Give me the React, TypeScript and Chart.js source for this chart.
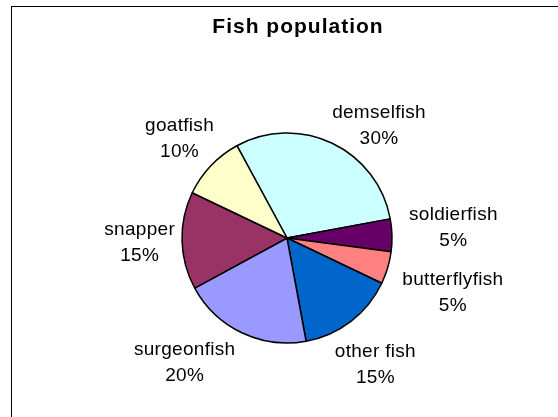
import React, { useEffect, useRef } from 'react';
import { Chart, registerables } from 'chart.js';

Chart.register(...registerables);

const categories = ['demselfish', 'soldierfish', 'butterflyfish', 'other fish', 'surgeonfish', 'snapper', 'goatfish'];
const values = [30, 5, 5, 15, 20, 15, 10];
const colors = ['#CCFFFF', '#660066', '#FF8080', '#0066CC', '#9999FF', '#993366', '#FFFFCC'];
const titleText = 'Fish population';

// small fine-tuning of label placement (dx, dy) relative to the geometric rule
const labelNudge: [number, number][] = [[3, 8], [9, -8], [7, 10], [-21, 15], [-10, 1], [1, -1], [9, -3]];

const labelPlugin = {
  id: 'excelLabels',
  afterDatasetsDraw(chart: any) {
    const ctx = chart.ctx as CanvasRenderingContext2D;
    const meta = chart.getDatasetMeta(0);
    const total = values.reduce((a, b) => a + b, 0);
    ctx.save();
    ctx.fillStyle = '#000';
    ctx.textAlign = 'center';
    ctx.textBaseline = 'alphabetic';
    ctx.font = '19px "Liberation Sans", Arial, sans-serif';
    (ctx as any).letterSpacing = '0.3px';
    const clamp = (v: number) => Math.max(-1, Math.min(1, v));
    meta.data.forEach((arc: any, i: number) => {
      const { x, y, startAngle, endAngle, outerRadius } = arc.getProps(
        ['x', 'y', 'startAngle', 'endAngle', 'outerRadius'],
        true
      );
      const mid = (startAngle + endAngle) / 2;
      const ux = Math.cos(mid);
      const uy = Math.sin(mid);
      const lines = [categories[i], Math.round((values[i] / total) * 100) + '%'];
      const w = Math.max(...lines.map((l) => ctx.measureText(l).width));
      const h = 40;
      const gap = 8;
      const px = x + (outerRadius + gap) * ux;
      const py = y + (outerRadius + gap) * uy;
      const cx = px + (w / 2) * clamp(2 * ux) + labelNudge[i][0];
      const cy = py + (h / 2) * clamp(2 * uy) + labelNudge[i][1];
      ctx.fillText(lines[0], cx, cy - 6);
      ctx.fillText(lines[1], cx, cy + 20);
    });
    ctx.font = 'bold 21px "Liberation Sans", Arial, sans-serif';
    (ctx as any).letterSpacing = '1px';
    ctx.fillText(titleText, 298, 33);
    ctx.restore();
  },
};

export default function App() {
  const canvasRef = useRef<HTMLCanvasElement | null>(null);

  useEffect(() => {
    if (!canvasRef.current) return;
    const chart = new Chart(canvasRef.current, {
      type: 'pie',
      data: {
        labels: categories,
        datasets: [
          {
            data: values,
            backgroundColor: colors,
            borderColor: '#000000',
            borderWidth: 1.5,
          },
        ],
      },
      options: {
        responsive: false,
        animation: false,
        devicePixelRatio: 1,
        rotation: -28.5,
        radius: 105,
        layout: { padding: { left: 116, right: 100, top: 109, bottom: 50 } },
        plugins: {
          legend: { display: false },
          tooltip: { enabled: false },
          title: { display: false },
        },
      } as any,
      plugins: [labelPlugin],
    });
    return () => chart.destroy();
  }, []);

  return (
    <div
      style={{
        position: 'fixed',
        left: 0,
        top: 0,
        width: 558,
        height: 417,
        overflow: 'hidden',
        background: '#fff',
      }}
    >
      <div
        style={{
          position: 'absolute',
          left: 11,
          top: 6,
          width: 700,
          height: 600,
          borderLeft: '1px solid #000',
          borderTop: '1px solid #000',
        }}
      />
      <canvas
        ref={canvasRef}
        width={558}
        height={417}
        style={{ position: 'absolute', left: 0, top: 0, width: 558, height: 417 }}
      />
    </div>
  );
}
